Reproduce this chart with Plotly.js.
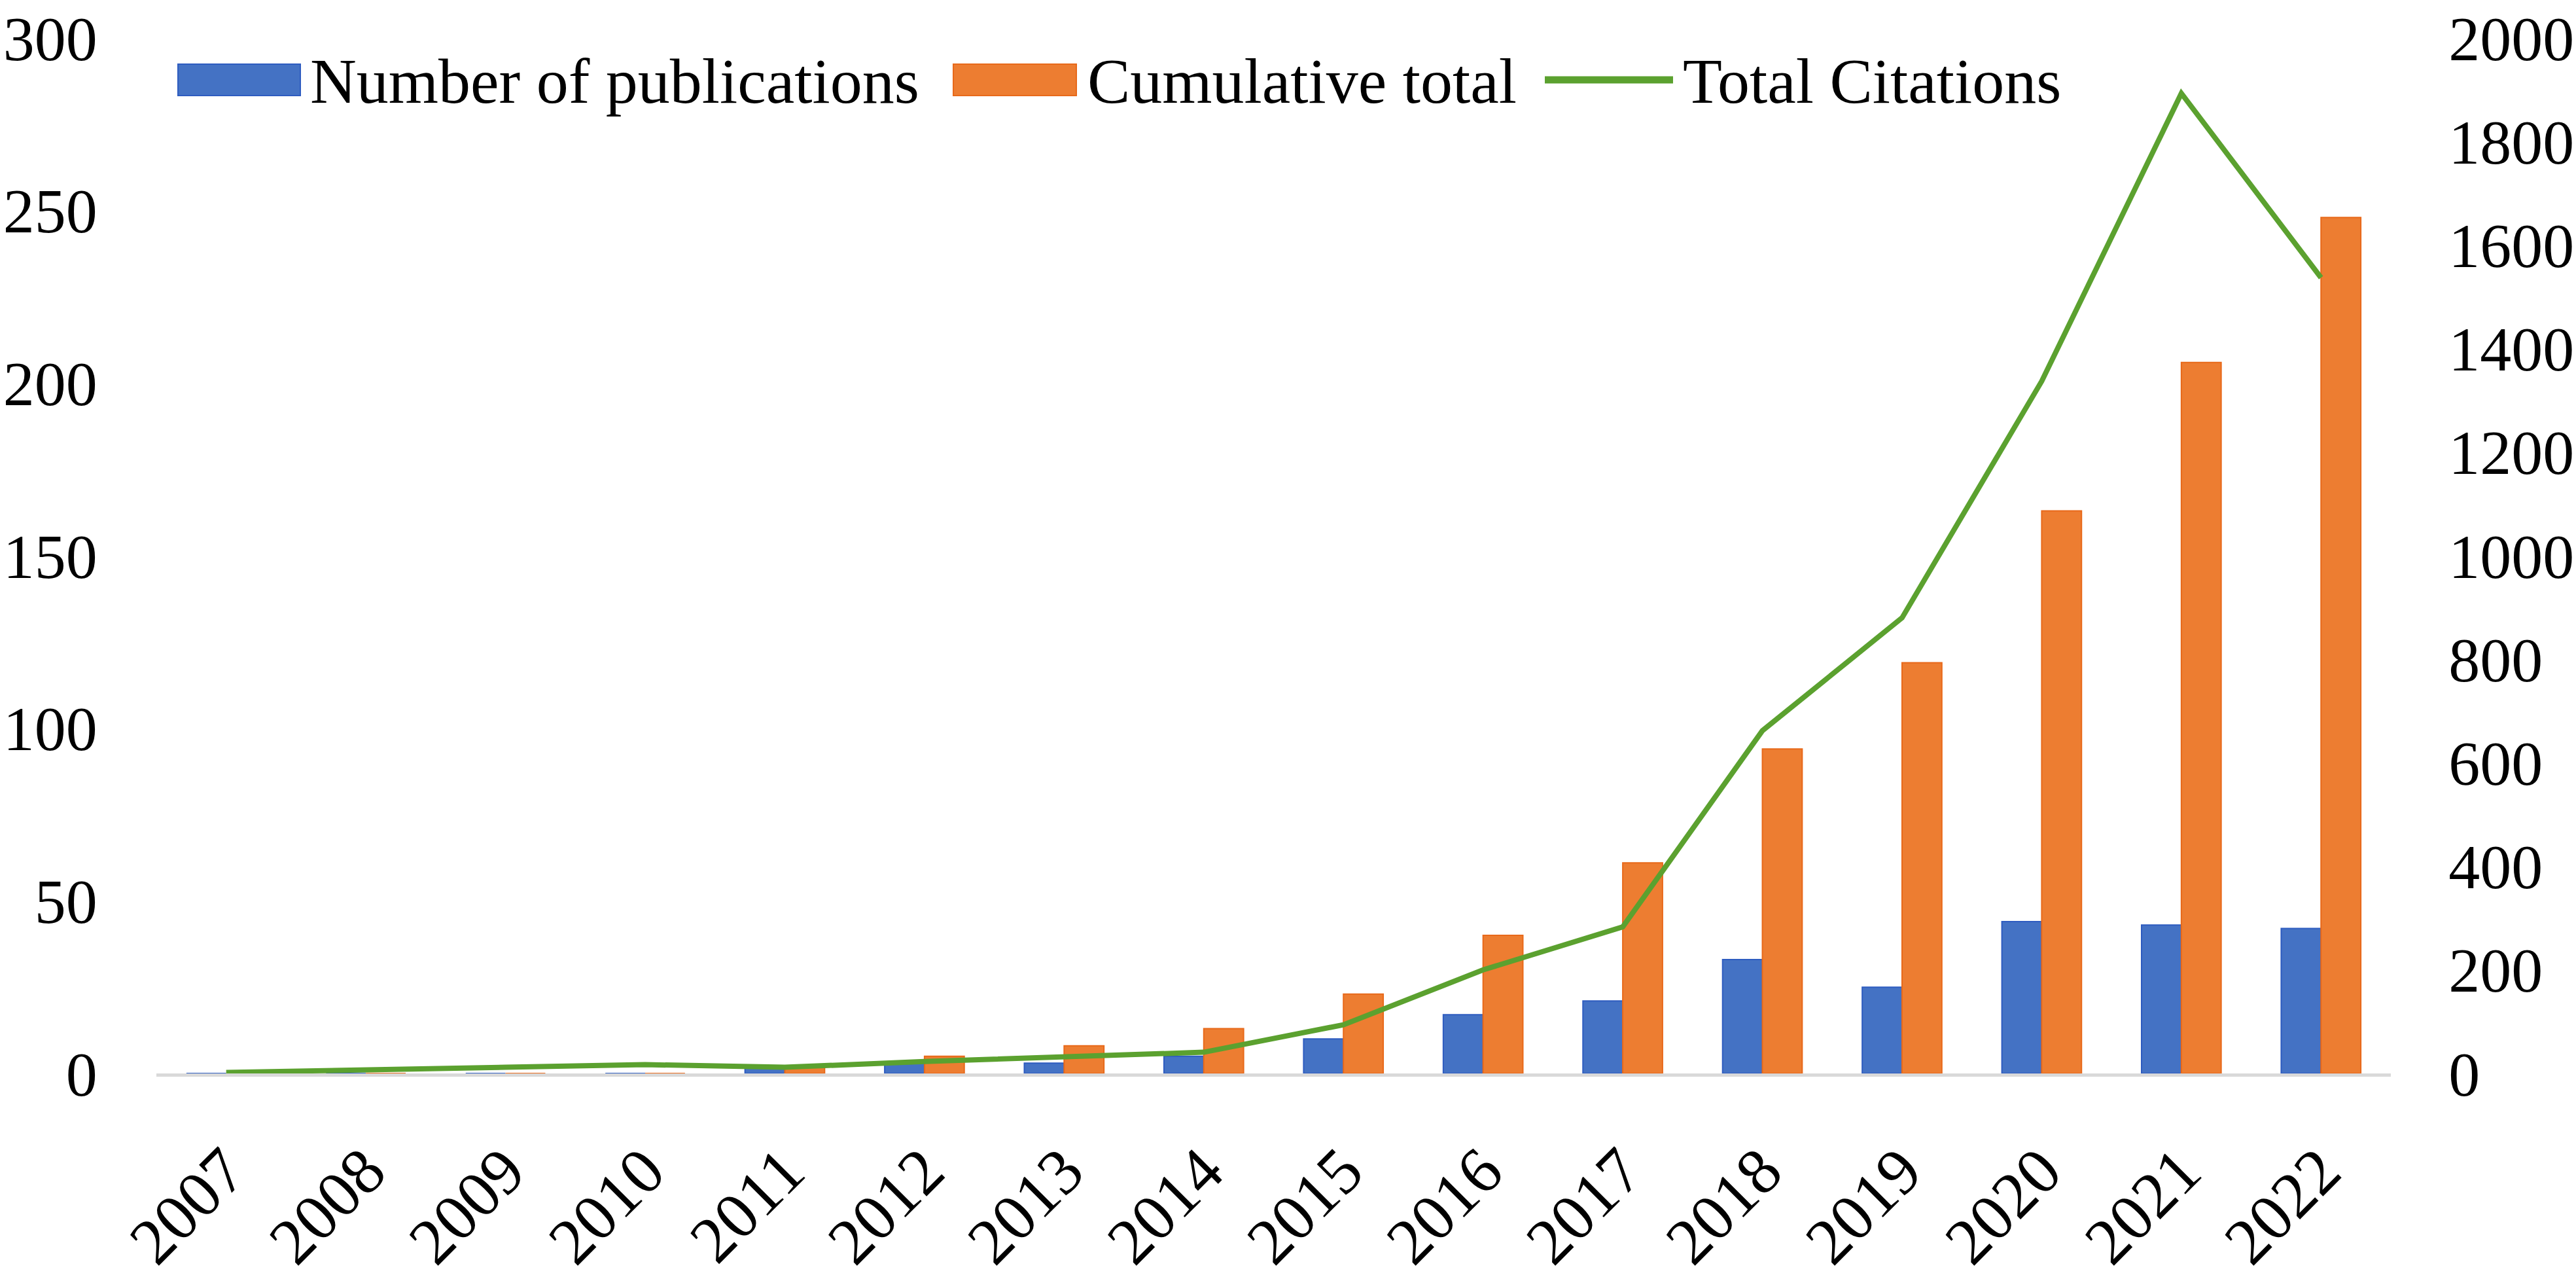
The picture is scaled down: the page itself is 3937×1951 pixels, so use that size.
<!DOCTYPE html>
<html>
<head>
<meta charset="utf-8">
<script src="https://cdn.plot.ly/plotly-3.0.1.min.js"></script>
<style>
  html, body { margin: 0; padding: 0; background: #fff; }
  #chart { width: 3937px; height: 1951px; }
</style>
</head>
<body>
<div id="chart"></div>
<script>
(function () {
  'use strict';

  /* ── Data ── */
  var years = ['2007', '2008', '2009', '2010', '2011', '2012', '2013', '2014',
               '2015', '2016', '2017', '2018', '2019', '2020', '2021', '2022'];
  var publications = [0, 0, 0, 0, 2, 3, 3, 5, 10, 17, 21, 33, 25, 44, 43, 42];
  var cumulative   = [0, 0, 0, 0, 2, 5, 8, 13, 23, 40, 61, 94, 119, 163, 206, 248];
  var citations    = [2, 6, 12, 17, 12, 23, 31, 41, 94, 200, 283, 662, 880, 1337, 1893, 1537];
  var seriesNames  = ['Number of publications', 'Cumulative total', 'Total Citations'];
  var leftTicks    = [0, 50, 100, 150, 200, 250, 300];
  var rightTicks   = [0, 200, 400, 600, 800, 1000, 1200, 1400, 1600, 1800, 2000];

  var BLUE   = '#4472C4';
  var ORANGE = '#ED7D31';
  var GREEN  = '#5BA12F';
  var FONT   = '"Liberation Serif", "Times New Roman", serif';
  var FS     = 96;

  /* plot box in page pixels */
  var W = 3937, H = 1951;
  var L = 239, R = 3654, T = 58, B = 1640;
  function px(x) { return (x - L) / (R - L); }
  function py(y) { return (B - y) / (B - T); }

  var pubTrace = {
    x: years, y: publications, name: seriesNames[0],
    type: 'bar',
    marker: { color: BLUE, line: { color: '#2E5CC0', width: 2 } },
    showlegend: false,
  };

  var cumTrace = {
    x: years, y: cumulative, name: seriesNames[1],
    type: 'bar',
    marker: { color: ORANGE, line: { color: '#E8691A', width: 2 } },
    showlegend: false,
  };

  var citeTrace = {
    x: years, y: citations, name: seriesNames[2],
    type: 'scatter', mode: 'lines', yaxis: 'y2',
    line: { color: GREEN, width: 8 },
    showlegend: false,
  };

  /* ── Hand-drawn legend (Plotly legend swatches don't scale) ── */
  var shapes = [
    { type: 'rect', xref: 'paper', yref: 'paper',
      x0: px(272), x1: px(459), y0: py(146), y1: py(98),
      fillcolor: BLUE, line: { color: '#2E5CC0', width: 2 } },
    { type: 'rect', xref: 'paper', yref: 'paper',
      x0: px(1457), x1: px(1645), y0: py(146), y1: py(98),
      fillcolor: ORANGE, line: { color: '#E8691A', width: 2 } },
    { type: 'line', xref: 'paper', yref: 'paper',
      x0: px(2361), x1: px(2557), y0: py(122), y1: py(122),
      line: { color: GREEN, width: 11 } },
  ];

  var legendText = [
    { x: 472,  text: seriesNames[0] },
    { x: 1660, text: seriesNames[1] },
    { x: 2570, text: seriesNames[2] },
  ];
  var annotations = legendText.map(function (t) {
    return {
      xref: 'paper', yref: 'paper', x: px(t.x), y: py(124),
      xanchor: 'left', yanchor: 'middle', showarrow: false,
      text: t.text, font: { family: FONT, size: 98, color: '#000' },
    };
  });

  var layout = {
    width: W, height: H,
    margin: { l: L, r: W - R, t: T, b: H - B, pad: 0 },
    paper_bgcolor: '#fff', plot_bgcolor: '#fff',
    font: { family: FONT, size: FS, color: '#000' },
    barmode: 'group', bargap: 0.43, bargroupgap: 0,
    showlegend: false,
    xaxis: {
      type: 'category',
      tickangle: -45,
      showline: true, linecolor: '#D9D9D9', linewidth: 5,
      showgrid: false, zeroline: false,
      ticks: 'outside', ticklen: 45, tickcolor: 'rgba(0,0,0,0)',
      tickfont: { family: FONT, size: 100, color: '#000' },
      ticklabeloverflow: 'allow',
      fixedrange: true,
    },
    yaxis: {
      range: [0, 300], tickvals: leftTicks,
      showline: false, showgrid: false, zeroline: false,
      ticks: 'outside', ticklen: 70, tickcolor: 'rgba(0,0,0,0)',
      tickfont: { family: FONT, size: FS, color: '#000' },
      ticklabeloverflow: 'allow',
      fixedrange: true,
    },
    yaxis2: {
      range: [0, 2000], tickvals: rightTicks,
      overlaying: 'y', side: 'right',
      showline: false, showgrid: false, zeroline: false,
      ticks: 'outside', ticklen: 68, tickcolor: 'rgba(0,0,0,0)',
      tickfont: { family: FONT, size: FS, color: '#000' },
      ticklabeloverflow: 'allow',
      fixedrange: true,
    },
    shapes: shapes,
    annotations: annotations,
  };

  Plotly.newPlot('chart', [pubTrace, cumTrace, citeTrace], layout, {
    displayModeBar: false, staticPlot: true,
  });
})();
</script>
</body>
</html>
